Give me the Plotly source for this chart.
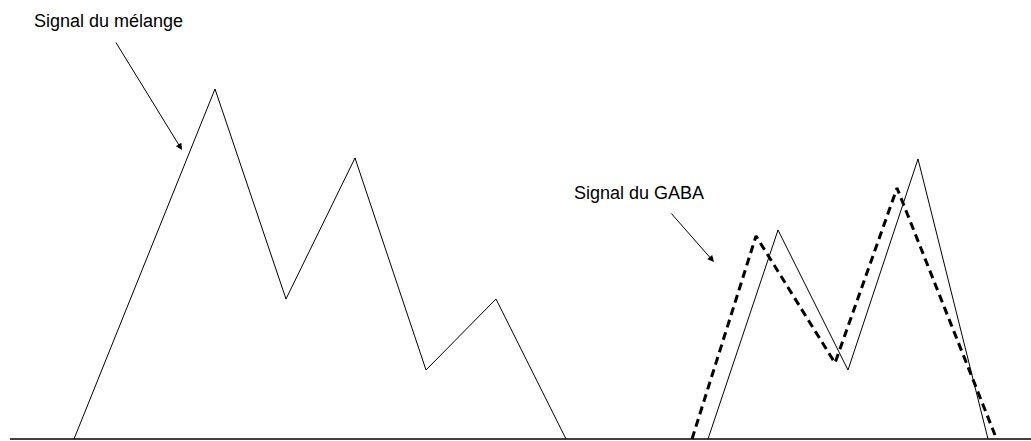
import plotly.graph_objects as go

# Spectrum of the mixture (two groups of peaks)
mix_a_x = [74, 215, 286, 355, 426, 496, 566]
mix_a_y = [0, 350, 140, 281, 69, 140, 0]
mix_b_x = [708, 778, 848, 918, 988]
mix_b_y = [0, 209, 69, 280, 0]

# Spectrum of GABA (dashed)
gaba_x = [692, 756, 835, 897, 995]
gaba_y = [0, 203, 76, 251, 4]

# Baseline
base_x = [10, 1031]
base_y = [0, 0]

labels = ["Signal du mélange", "Signal du GABA"]

fig = go.Figure()
fig.add_trace(go.Scatter(x=base_x, y=base_y, mode="lines",
                         line=dict(color="black", width=1.6), hoverinfo="skip"))
fig.add_trace(go.Scatter(x=mix_a_x, y=mix_a_y, mode="lines",
                         line=dict(color="black", width=1), hoverinfo="skip"))
fig.add_trace(go.Scatter(x=mix_b_x, y=mix_b_y, mode="lines",
                         line=dict(color="black", width=1), hoverinfo="skip"))
fig.add_trace(go.Scatter(x=gaba_x, y=gaba_y, mode="lines",
                         line=dict(color="black", width=3, dash="8px,5px"), hoverinfo="skip"))

font = dict(family="Liberation Sans, Arial, sans-serif", size=18, color="black")

fig.add_annotation(x=32, y=418, text=labels[0], showarrow=False,
                   xanchor="left", yanchor="middle", font=font)
fig.add_annotation(x=572, y=246, text=labels[1], showarrow=False,
                   xanchor="left", yanchor="middle", font=font)

# arrows
fig.add_annotation(x=182, y=289, ax=115, ay=398, xref="x", yref="y",
                   axref="x", ayref="y", showarrow=True, text="",
                   arrowhead=2, arrowsize=1.3, arrowwidth=1, arrowcolor="black")
fig.add_annotation(x=714, y=177, ax=670, ay=227, xref="x", yref="y",
                   axref="x", ayref="y", showarrow=True, text="",
                   arrowhead=2, arrowsize=1.3, arrowwidth=1, arrowcolor="black")

fig.update_layout(
    width=1031, height=441,
    margin=dict(l=0, r=0, t=0, b=0),
    paper_bgcolor="white", plot_bgcolor="white",
    showlegend=False,
    xaxis=dict(range=[0, 1031], visible=False, fixedrange=True),
    yaxis=dict(range=[-2, 439], visible=False, fixedrange=True),
)

fig.write_html("out.html", config={"displayModeBar": False})
